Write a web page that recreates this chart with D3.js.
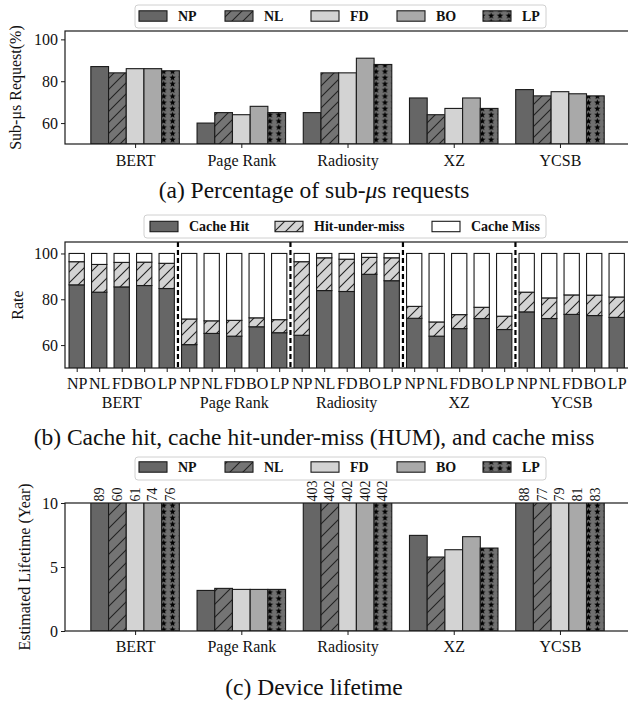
<!DOCTYPE html>
<html>
<head>
<meta charset="utf-8">
<script src="https://cdn.jsdelivr.net/npm/d3@7/dist/d3.min.js"></script>
<style>
  body { margin: 0; background: #fff; }
  svg text { font-family: "Liberation Serif", "Times New Roman", serif; fill: #111; }
</style>
</head>
<body>
<div id="chart"></div>
<script>
// workloads and prefetch schemes
var workloads = ["BERT", "Page Rank", "Radiosity", "XZ", "YCSB"];
var schemes = ["NP", "NL", "FD", "BO", "LP"];

// (a) share of sub-us requests (%), rows = workloads, cols = schemes
var subUsRequest = [
  [87, 84, 86, 86, 85],
  [60, 65, 64, 68, 65],
  [65, 84, 84, 91, 88],
  [72, 64, 67, 72, 67],
  [76, 73, 75, 74, 73]
];

// (b) cache hit and hit-under-miss rates, miss is the rest up to 100
var cacheHit = [
  [86.3, 83.1, 85.4, 86.0, 84.7],
  [60.2, 65.1, 63.9, 68.0, 65.4],
  [64.3, 83.8, 83.4, 90.9, 88.1],
  [71.7, 63.9, 67.2, 71.6, 66.8],
  [74.5, 71.6, 73.4, 72.9, 72.1]
];
var hitUnderMiss = [
  [10.1, 12.1, 10.7, 10.2, 11.0],
  [11.2, 5.5, 6.9, 3.9, 5.7],
  [32.1, 14.3, 14.1, 7.4, 10.0],
  [5.2, 6.2, 6.1, 4.9, 5.8],
  [8.6, 9.0, 8.5, 8.9, 8.9]
];
var rateLegend = ["Cache Hit", "Hit-under-miss", "Cache Miss"];

// (c) estimated device lifetime (years)
var lifetime = [
  [89, 60, 61, 74, 76],
  [3.17, 3.33, 3.25, 3.25, 3.25],
  [403, 402, 402, 402, 402],
  [7.47, 5.78, 6.35, 7.37, 6.48],
  [88, 77, 79, 81, 83]
];

var yTicksA = [60, 80, 100];
var yTicksB = [60, 80, 100];
var yTicksC = [0, 5, 10];

var width = 628, height = 702;
var ink = "#1a1a1a";

var svg = d3.select("#chart").append("svg")
    .attr("width", width)
    .attr("height", height);

var defs = svg.append("defs");

// matplotlib-ish '//' hatch
function makeHatch(id, size, bg) {
  var p = defs.append("pattern")
      .attr("id", id)
      .attr("patternUnits", "userSpaceOnUse")
      .attr("width", size).attr("height", size);
  p.append("rect").attr("width", size).attr("height", size).attr("fill", bg);
  p.append("path")
      .attr("d", "M0," + size + "L" + size + ",0M-2,2L2,-2M" + (size - 2) + "," + (size + 2) + "L" + (size + 2) + "," + (size - 2))
      .attr("stroke", "#222").attr("stroke-width", 1.1);
}

// '*' hatch: black stars
function makeStars(id, w, h, bg) {
  var p = defs.append("pattern")
      .attr("id", id)
      .attr("patternUnits", "userSpaceOnUse")
      .attr("width", w).attr("height", h);
  p.append("rect").attr("width", w).attr("height", h).attr("fill", bg);
  var pts = d3.range(10).map(function(k) {
    var r = k % 2 ? 1.45 : 3.4;
    var a = k * Math.PI / 5 - Math.PI / 2;
    return [w / 2 + r * Math.cos(a), h / 2 + 0.3 + r * Math.sin(a)];
  });
  p.append("polygon").attr("points", pts.join(" ")).attr("fill", "#000");
}

makeHatch("hatchA", 11, "#747474");
makeHatch("hatchC", 13, "#747474");
makeHatch("hatchB", 11, "#d3d3d3");
makeStars("starA", 8.85, 6.2, "#707070");

var fillsA = ["#666666", "url(#hatchA)", "#d3d3d3", "#a9a9a9", "url(#starA)"];
var fillsC = ["#666666", "url(#hatchC)", "#d3d3d3", "#a9a9a9", "url(#starA)"];
var fillsB = ["#666666", "url(#hatchB)", "#ffffff"];

function legend(items, fills, box, xs, cy) {
  var g = svg.append("g");
  g.append("rect")
      .attr("x", box[0]).attr("y", box[1])
      .attr("width", box[2] - box[0]).attr("height", box[3] - box[1])
      .attr("rx", 3)
      .attr("fill", "#fff").attr("stroke", "#d0d0d0");
  items.forEach(function(name, i) {
    g.append("rect")
        .attr("x", xs[i]).attr("y", cy - 5.2)
        .attr("width", 28).attr("height", 10.4)
        .attr("fill", fills[i]).attr("stroke", ink).attr("stroke-width", 1.1);
    g.append("text")
        .attr("x", xs[i] + 39).attr("y", cy + 4.8)
        .attr("font-size", 14).attr("font-weight", "bold")
        .text(name);
  });
}

function frame(x0, x1, y0, y1) {
  svg.append("rect")
      .attr("x", x0).attr("y", y0)
      .attr("width", x1 - x0).attr("height", y1 - y0)
      .attr("fill", "none").attr("stroke", ink).attr("stroke-width", 1.2);
}

function yAxis(scale, ticks, left) {
  var ax = svg.append("g")
      .attr("transform", "translate(" + left + ",0)")
      .call(d3.axisLeft(scale).tickValues(ticks).tickSize(4).tickSizeOuter(0).tickPadding(3));
  ax.select(".domain").remove();
  ax.selectAll("line").attr("stroke", ink);
  ax.selectAll("text").attr("font-size", 16).attr("font-family", null).attr("fill", "#111");
}

function yLabel(txt, x, cy) {
  svg.append("text")
      .attr("transform", "translate(" + x + "," + cy + ") rotate(-90)")
      .attr("text-anchor", "middle")
      .attr("font-size", 16)
      .text(txt);
}

function caption(parts, y) {
  var t = svg.append("text")
      .attr("x", width / 2).attr("y", y)
      .attr("text-anchor", "middle")
      .attr("font-size", 23.5);
  parts.forEach(function(p) {
    t.append("tspan").attr("font-style", p[1] ? "italic" : null).text(p[0]);
  });
}

function clip(id, x0, x1, y0, y1) {
  defs.append("clipPath").attr("id", id)
    .append("rect").attr("x", x0).attr("y", y0).attr("width", x1 - x0).attr("height", y1 - y0);
}

// grouped bars for panels (a) and (c)
function groupedBars(vals, x, y, fills, clipId) {
  var bw = 1 / 6;
  var flat = [];
  vals.forEach(function(row, i) {
    row.forEach(function(v, j) { flat.push({g: i, s: j, v: v}); });
  });
  svg.append("g").attr("clip-path", "url(#" + clipId + ")")
    .selectAll("rect").data(flat).enter().append("rect")
      .attr("x", function(d) { return x(d.g + (d.s - 2.5) * bw); })
      .attr("width", x(bw) - x(0))
      .attr("y", function(d) { return y(d.v); })
      .attr("height", function(d) { return y(y.domain()[0]) - y(d.v); })
      .attr("fill", function(d) { return fills[d.s]; })
      .attr("stroke", ink).attr("stroke-width", 1.1);
  return flat;
}

function xAxisGroups(x, bottom, labelY) {
  var ax = svg.append("g")
      .attr("transform", "translate(0," + bottom + ")")
      .call(d3.axisBottom(x).tickValues(d3.range(workloads.length)).tickSize(4).tickSizeOuter(0)
        .tickFormat(function(i) { return workloads[i]; }));
  ax.select(".domain").remove();
  ax.selectAll("line").attr("stroke", ink);
  ax.selectAll("text").attr("font-size", 16).attr("font-family", null).attr("fill", "#111")
      .attr("y", labelY - bottom).attr("dy", null);
}

// ---------- (a) ----------
var xA = d3.scaleLinear().domain([-0.66, 4.65]).range([65, 629]);
var yA = d3.scaleLinear().domain([50, 104]).range([144, 31]);
clip("clipA", 65, 629, 31, 144);
groupedBars(subUsRequest, xA, yA, fillsA, "clipA");
frame(65, 629, 31, 144);
yAxis(yA, yTicksA, 65);
xAxisGroups(xA, 144, 166);
yLabel("Sub-\u03bcs Request(%)", 21, 87.5);
legend(schemes, fillsA, [135, 5, 546, 28], [139, 225, 311, 397, 483], 16);
caption([["(a) Percentage of sub-", false], ["\u03bc", true], ["s requests", false]], 198);

// ---------- (b) ----------
var nB = workloads.length * schemes.length;
var xB = d3.scaleLinear().domain([-0.52, nB - 0.48]).range([65, 628.4]);
var yB = d3.scaleLinear().domain([50, 105]).range([368, 242]);
clip("clipB", 65, 629, 242, 368);
var stacked = [];
workloads.forEach(function(w, i) {
  schemes.forEach(function(s, j) {
    var k = i * schemes.length + j;
    var hit = cacheHit[i][j], hum = hitUnderMiss[i][j];
    stacked.push({k: k, lo: 0, hi: hit, t: 0});
    stacked.push({k: k, lo: hit, hi: hit + hum, t: 1});
    stacked.push({k: k, lo: hit + hum, hi: 100, t: 2});
  });
});
var bwB = 0.68;
svg.append("g").attr("clip-path", "url(#clipB)")
  .selectAll("rect").data(stacked).enter().append("rect")
    .attr("x", function(d) { return xB(d.k - bwB / 2); })
    .attr("width", xB(bwB) - xB(0))
    .attr("y", function(d) { return yB(d.hi); })
    .attr("height", function(d) { return yB(d.lo) - yB(d.hi); })
    .attr("fill", function(d) { return fillsB[d.t]; })
    .attr("stroke", ink).attr("stroke-width", 1.1);
// dashed separators between workloads
svg.append("g").selectAll("line")
  .data(d3.range(1, workloads.length)).enter().append("line")
    .attr("x1", function(i) { return xB(i * schemes.length - 0.5); })
    .attr("x2", function(i) { return xB(i * schemes.length - 0.5); })
    .attr("y1", 242).attr("y2", 368)
    .attr("stroke", "#000").attr("stroke-width", 2.2)
    .attr("stroke-dasharray", "5,3");
frame(65, 629, 242, 368);
yAxis(yB, yTicksB, 65);
var axB = svg.append("g")
    .attr("transform", "translate(0,368)")
    .call(d3.axisBottom(xB).tickValues(d3.range(nB)).tickSize(4).tickSizeOuter(0)
      .tickFormat(function(k) { return schemes[k % schemes.length]; }));
axB.select(".domain").remove();
axB.selectAll("line").attr("stroke", ink);
axB.selectAll("text").attr("font-size", 16).attr("font-family", null).attr("fill", "#111")
    .attr("y", 21).attr("dy", null);
svg.append("g").selectAll("text")
  .data(workloads).enter().append("text")
    .attr("x", function(w, i) { return xB(i * schemes.length + 2); })
    .attr("y", 408)
    .attr("text-anchor", "middle")
    .attr("font-size", 16)
    .text(function(w) { return w; });
yLabel("Rate", 23, 305);
legend(rateLegend, fillsB, [144, 215, 546, 238], [150, 275, 432], 226.5);
caption([["(b) Cache hit, cache hit-under-miss (HUM), and cache miss", false]], 445);

// ---------- (c) ----------
var yC = d3.scaleLinear().domain([0, 10]).range([631, 503]);
clip("clipC", 65, 629, 503, 631);
var barsC = groupedBars(lifetime, xA, yC, fillsC, "clipC");
// values that run past the axis top are written above it
svg.append("g").selectAll("text")
  .data(barsC.filter(function(d) { return d.v > 10; })).enter().append("text")
    .attr("transform", function(d) {
      return "translate(" + (xA(d.g + (d.s - 2) / 6) + 4.5) + "," + (yC(10) - 1.5) + ") rotate(-90)";
    })
    .attr("font-size", 14)
    .text(function(d) { return d3.format("d")(d.v); });
frame(65, 629, 503, 631);
yAxis(yC, yTicksC, 65);
xAxisGroups(xA, 631, 652);
yLabel("Estimated Lifetime (Year)", 30, 567);
legend(schemes, fillsC, [135, 457, 546, 480], [139, 225, 311, 397, 483], 467);
caption([["(c) Device lifetime", false]], 695);
</script>
</body>
</html>
